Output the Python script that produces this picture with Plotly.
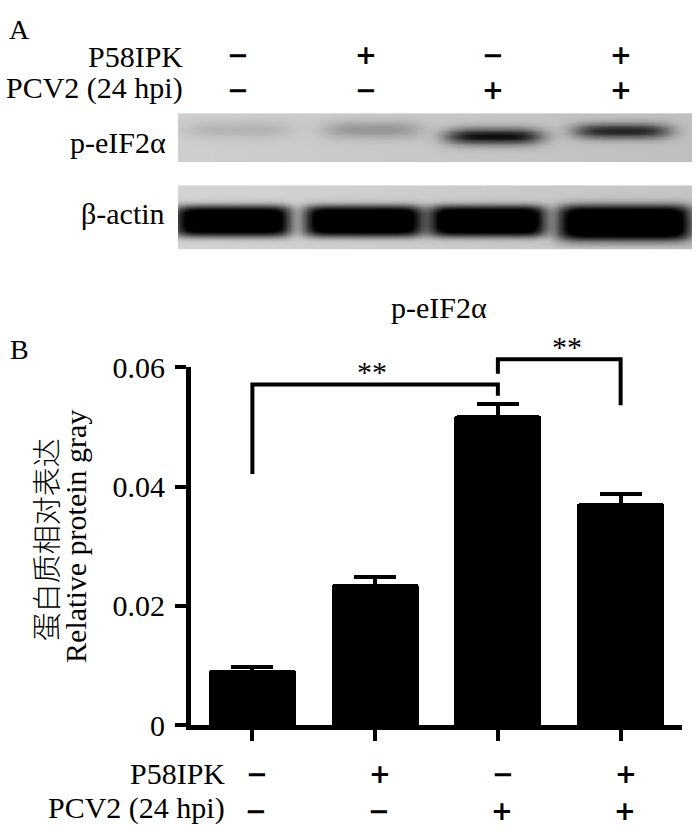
import numpy as np
import plotly.graph_objects as go

W, H = 700, 840

# ---------------- data ----------------
groups = [0, 1, 2, 3]
p58ipk = ["−", "+", "−", "+"]
pcv2 = ["−", "−", "+", "+"]
rel_gray = [0.0093, 0.0237, 0.0519, 0.0372]
rel_gray_err = [0.0004, 0.0012, 0.0019, 0.0016]
y_ticks = [0, 0.02, 0.04, 0.06]
y_tick_text = ["0", "0.02", "0.04", "0.06"]

# significance brackets
sig_from = [0, 2]
sig_to = [2, 3]
sig_level = [0.0571, 0.0613]
sig_left_end = [0.0421, 0.0589]
sig_right_end = [0.0552, 0.0536]
sig_label = ["**", "**"]

# western blot band densities (0 = none, 1 = saturated)
p_eif2a_band = [0.10, 0.20, 0.72, 0.62]
actin_band = [1.0, 1.0, 1.0, 1.0]

# ---------------- helpers ----------------
SERIF = "Liberation Serif"


def X(p):
    return p / W


def Y(p):
    return 1 - p / H


# blot image grid (lanes in group units)
blot_x0, blot_x1 = -0.46, 3.546
nx, ny = 320, 60
bx = np.linspace(blot_x0, blot_x1, nx)
by = np.linspace(0, 1, ny)
GX, GY = np.meshgrid(bx, by)
dx = bx[1] - bx[0]
dy = by[1] - by[0]


def blot(density, bg, yc, hh, hw, xoff, ppx, ppy):
    Z = bg + 0.06 * (GX - blot_x0) / (blot_x1 - blot_x0)
    for i, d in zip(groups, density):
        Z = Z + d * np.exp(-np.abs((GX - i - xoff[i]) / hw[i]) ** ppx) * \
            np.exp(-np.abs((GY - yc[i]) / hh[i]) ** ppy)
    return np.clip(Z, 0, 1)


Zp = blot(p_eif2a_band, 0.19, [0.33, 0.33, 0.47, 0.36], [0.18, 0.18, 0.17, 0.16],
          [0.42, 0.38, 0.38, 0.38], [0.0, 0.05, 0.0, 0.0], 4, 2)
Za = blot(actin_band, 0.17, [0.55, 0.55, 0.55, 0.58], [0.25, 0.25, 0.25, 0.29],
          [0.46, 0.47, 0.46, 0.53], [-0.04, -0.02, -0.05, 0.02], 8, 4)

gray = [[0, "white"], [1, "black"]]

fig = go.Figure()

fig.add_trace(go.Heatmap(x=bx, y=by, z=Zp, colorscale=gray, zmin=0, zmax=1,
                         showscale=False, zsmooth="best", xaxis="x2", yaxis="y2",
                         hoverinfo="skip"))
fig.add_trace(go.Heatmap(x=bx, y=by, z=Za, colorscale=gray, zmin=0, zmax=1,
                         showscale=False, zsmooth="best", xaxis="x3", yaxis="y3",
                         hoverinfo="skip"))

fig.add_trace(go.Bar(
    x=groups, y=rel_gray, width=0.71,
    marker=dict(color="black", line=dict(width=0), cornerradius=3),
    error_y=dict(type="data", array=rel_gray_err, visible=True,
                 color="black", thickness=4, width=21),
    xaxis="x", yaxis="y", hoverinfo="skip"))

# auxiliary (invisible) axes with the same scale, taller, so brackets are not clipped
Y_BOT, Y_TOP, Y_EXT = 737.5, 365.0, 318.0
y4_max = 0.06 * (Y_BOT - Y_EXT) / (Y_BOT - Y_TOP)

shapes = []
annotations = []
for a, b, lev, l1, l2, lab in zip(sig_from, sig_to, sig_level, sig_left_end,
                                  sig_right_end, sig_label):
    shapes.append(dict(type="path", xref="x4", yref="y4",
                       path=f"M {a},{l1} L {a},{lev} L {b},{lev} L {b},{l2}",
                       line=dict(color="black", width=4)))
    annotations.append(dict(x=(a + b) / 2, y=lev, xref="x4", yref="y4",
                            text=lab, showarrow=False, yanchor="bottom",
                            xshift=8 if b - a == 1 else -3, yshift=-6,
                            font=dict(family=SERIF, size=30, color="black")))

txt = dict(family=SERIF, size=30, color="black")
sign_font = dict(family="DejaVu Sans", size=26, color="black", weight="bold")

annotations += [
    dict(x=X(7), y=Y(14), xref="paper", yref="paper", text="A", showarrow=False,
         xanchor="left", yanchor="middle", font=dict(family=SERIF, size=28, color="black")),
    dict(x=X(8), y=Y(347), xref="paper", yref="paper", text="B", showarrow=False,
         xanchor="left", yanchor="middle", font=dict(family=SERIF, size=28, color="black")),
    dict(x=X(439), y=Y(303), xref="paper", yref="paper", text="p-eIF2α", showarrow=False,
         xanchor="center", yanchor="middle", font=txt),
    dict(x=X(168), y=Y(132), xref="paper", yref="paper", text="p-eIF2α", showarrow=False,
         xanchor="right", yanchor="middle", font=txt),
    dict(x=X(167), y=Y(205), xref="paper", yref="paper", text="β-actin", showarrow=False,
         xanchor="right", yanchor="middle", font=txt),
    dict(x=X(185), y=Y(42), xref="paper", yref="paper", text="P58IPK", showarrow=False,
         xanchor="right", yanchor="middle", font=txt),
    dict(x=X(185), y=Y(75), xref="paper", yref="paper", text="PCV2 (24 hpi)", showarrow=False,
         xanchor="right", yanchor="middle", font=txt),
    dict(x=X(227), y=Y(788), xref="paper", yref="paper", text="P58IPK", showarrow=False,
         xanchor="right", yanchor="middle", font=txt),
    dict(x=X(227), y=Y(823), xref="paper", yref="paper", text="PCV2 (24 hpi)", showarrow=False,
         xanchor="right", yanchor="middle", font=txt),
    dict(x=X(45), y=Y(544), xref="paper", yref="paper", text="蛋白质相对表达", showarrow=False,
         textangle=-90, xanchor="center", yanchor="middle",
         font=dict(family="Noto Sans CJK SC", size=29, color="black", weight=300)),
    dict(x=X(75.5), y=Y(541), xref="paper", yref="paper", text="Relative protein gray",
         showarrow=False, textangle=-90, xanchor="center", yanchor="middle", font=txt),
]

# +/- rows above blot (aligned to blot lanes) and below bars (aligned to bars)
for i, s in zip(groups, p58ipk):
    annotations.append(dict(x=i, y=Y(40.5), xref="x2", yref="paper", text=s, showarrow=False,
                            xanchor="center", yanchor="middle", font=sign_font))
    annotations.append(dict(x=i, y=Y(788), xref="x", yref="paper", text=s, showarrow=False,
                            xanchor="center", yanchor="middle", xshift=5, font=sign_font))
for i, s in zip(groups, pcv2):
    annotations.append(dict(x=i, y=Y(77), xref="x2", yref="paper", text=s, showarrow=False,
                            xanchor="center", yanchor="middle", font=sign_font))
    annotations.append(dict(x=i, y=Y(827), xref="x", yref="paper", text=s, showarrow=False,
                            xanchor="center", yanchor="middle", xshift=4, font=sign_font))

hidden = dict(visible=False, showgrid=False, zeroline=False, fixedrange=True)

fig.update_layout(
    width=W, height=H, margin=dict(l=0, r=0, t=0, b=0),
    paper_bgcolor="white", plot_bgcolor="rgba(0,0,0,0)",
    showlegend=False, bargap=0,
    xaxis=dict(domain=[X(191), X(682)], range=[-0.5, 3.5], anchor="y",
               showline=True, linewidth=5, linecolor="black", mirror=False,
               ticks="outside", ticklen=11, tickwidth=4, tickcolor="black",
               tickvals=groups, showticklabels=False, showgrid=False, zeroline=False),
    yaxis=dict(domain=[Y(Y_BOT), Y(Y_TOP)], range=[0, 0.06], anchor="x",
               showline=True, linewidth=5, linecolor="black",
               ticks="outside", ticklen=11, tickwidth=4, tickcolor="black",
               tickvals=y_ticks, ticktext=y_tick_text, tickfont=txt,
               ticklabelstandoff=4,
               showgrid=False, zeroline=False),
    xaxis4=dict(domain=[X(191), X(682)], range=[-0.5, 3.5], anchor="y4", **hidden),
    yaxis4=dict(domain=[Y(Y_BOT), Y(Y_EXT)], range=[0, y4_max], anchor="x4", **hidden),
    xaxis2=dict(domain=[X(178), X(692)], range=[bx[0] - dx / 2, bx[-1] + dx / 2],
                anchor="y2", **hidden),
    yaxis2=dict(domain=[Y(152), Y(101)], range=[1 + dy / 2, -dy / 2], anchor="x2", **hidden),
    xaxis3=dict(domain=[X(178), X(692)], range=[bx[0] - dx / 2, bx[-1] + dx / 2],
                anchor="y3", **hidden),
    yaxis3=dict(domain=[Y(243), Y(176)], range=[1 + dy / 2, -dy / 2], anchor="x3", **hidden),
    shapes=shapes,
    annotations=annotations,
)

fig.write_html(
    "out.html",
    config={"displayModeBar": False, "staticPlot": True},
    post_script=("document.documentElement.style.margin='0';"
                 "document.body.style.margin='0';document.body.style.padding='0';"
                 "document.body.style.overflow='hidden';"
                 "var d=document.getElementById('{plot_id}');"
                 "d.style.position='fixed';d.style.top='0px';d.style.left='0px';"),
)
